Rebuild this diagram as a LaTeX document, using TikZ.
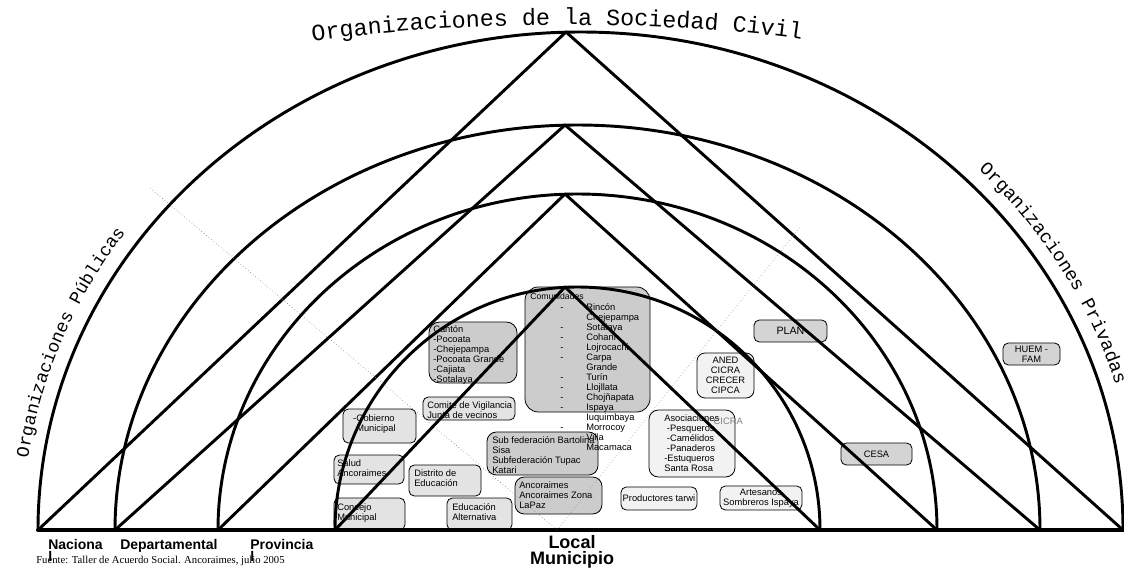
\documentclass[tikz,border=0pt]{standalone}
\usepackage{fontspec}
\newfontfamily\arialfam{Liberation Sans}
\newfontfamily\courfam{Liberation Mono}
\newfontfamily\romanfam{Liberation Serif}
\usetikzlibrary{fit,decorations.text}
\definecolor{grisA}{gray}{0.80}
\definecolor{grisB}{gray}{0.89}
\definecolor{grisC}{gray}{0.95}
\definecolor{grisD}{gray}{0.83}
\tikzset{
  caja/.style={draw=black, line width=0.6pt, rounded corners=4pt, inner sep=0pt},
  txt/.style={anchor=north west, inner sep=0pt, align=left, font=\arialfam\fontsize{7}{7.5}\selectfont},
  txtc/.style={inner sep=0pt, align=center, font=\arialfam\fontsize{7}{7.5}\selectfont},
  nivel/.style={anchor=north west, inner sep=0pt, align=left, font=\arialfam\bfseries\fontsize{10.5}{9}\selectfont},
  linea/.style={line width=2.2pt},
}
\begin{document}
\begin{tikzpicture}[line cap=round,line join=round,x=0.75pt,y=-0.75pt]
\useasboundingbox (0,0) rectangle (1124,568);

% cajas
\node[caja, fill=grisA, rounded corners=8pt, fit={(429,322) (517,383)}] (canton) {};
\node[caja, fill=grisA, rounded corners=10pt, fit={(525,287) (650,412)}] (comunidades) {};
\node[caja, fill=grisB, fit={(423,397) (515,420)}] (comite) {};
\node[caja, fill=grisB, fit={(343,409) (416,443)}] (gobierno) {};
\node[caja, fill=grisB, fit={(334,455) (404,484)}] (salud) {};
\node[caja, fill=grisB, fit={(334,498) (405,530)}] (concejo) {};
\node[caja, fill=grisB, fit={(409,465) (481,496)}] (distrito) {};
\node[caja, fill=grisB, fit={(447,498) (512,530)}] (educacion) {};
\node[caja, fill=grisA, rounded corners=7pt, fit={(487,432) (598,475)}] (subfed) {};
\node[caja, fill=grisA, rounded corners=7pt, fit={(515,477) (602,514)}] (ancoraimes) {};
\node[caja, fill=grisC, fit={(621,487) (697,510)}] (productores) {};
\node[caja, fill=grisC, fit={(720,486) (802,510)}] (artesanos) {};
\node[caja, fill=grisC, rounded corners=7pt, fit={(649,410) (735,477)}] (asociaciones) {};
\node[caja, fill=grisC, rounded corners=6pt, fit={(697,353) (754,398)}] (aned) {};
\node[caja, fill=grisD, fit={(754,320) (827,342)}] (plan) {};
\node[caja, fill=grisD, fit={(841,443) (912,465)}] (cesa) {};
\node[caja, fill=grisD, fit={(1003,343) (1060,365)}] (huem) {};

% niveles
\coordinate (b1) at (38,530);
\coordinate (b2) at (115,530);
\coordinate (b3) at (218,530);
\coordinate (b4) at (335,530);
\coordinate (c1) at (566,32);
\coordinate (c2) at (565,125);
\coordinate (c3) at (565,194);
\coordinate (c4) at (565,287);
\coordinate (d1) at (1123,530);
\coordinate (d2) at (1040,530);
\coordinate (d3) at (937,530);
\coordinate (d4) at (820,530);
\draw [linea] (b1) arc[start angle=180, end angle=360, x radius=542.5, y radius=498];
\draw [linea] (b2) arc[start angle=180, end angle=360, x radius=462.5, y radius=405];
\draw [linea] (b3) arc[start angle=180, end angle=360, x radius=359.5, y radius=336];
\draw [linea] (b4) arc[start angle=180, end angle=360, x radius=242.5, y radius=243];
\draw [linea] (b1)--(c1)--(d1);
\draw [linea] (b2)--(c2)--(d2);
\draw [linea] (b3)--(c3)--(d3);
\draw [linea] (b4)--(c4)--(d4);
\draw [line width=3pt] (b1)--(d1);
\coordinate (p1) at (150,188);
\coordinate (p0) at (557,530);
\coordinate (p2) at (800,227);
\draw [gray, dotted, line width=0.4pt] (p1)--(p0)--(p2);

% textos
\path [decorate, decoration={text along path, text align=center,
  text={|\courfam\fontsize{17.5}{17.5}\selectfont|Organizaciones de la Sociedad Civil}}]
  (296,44) .. controls (450,19) and (680,19) .. (818,42);
\path [decorate, decoration={text along path, text align=center,
  text={|\courfam\fontsize{13.5}{13.5}\selectfont|Organizaciones Públicas}}]
  (28.6,455) arc[start angle=188.4, end angle=215, x radius=558, y radius=514];
\path [decorate, decoration={text along path, text align=left,
  text={|\courfam\fontsize{14}{14}\selectfont|Organizaciones Privadas}}]
  (978.5,170) arc[start angle=315.5, end angle=355, x radius=558, y radius=514];

\node [txt] (t-canton) at (433,325) {Cantón\\-Pocoata\\-Chejepampa\\-Pocoata Grande\\-Cajiata\\-Sotalaya};
\node [txt, font=\arialfam\fontsize{6.5}{7}\selectfont] (t-comunidades) at (530,293) {Comunidades};
\node [txt] (t-lista) at (560,303) {\begin{tabular}{@{}p{19.5pt}@{}l@{}}
-&Rincón\\ &Chejepampa\\ -&Sotalaya\\ -&Cohani\\ -&Lojrocachi\\ -&Carpa\\ &Grande\\
-&Turín\\ -&Llojllata\\ -&Chojñapata\\ -&Ispaya\\ &Iuquimbaya\\ -&Morrocoy\\ &Villa\\ &Macamaca
\end{tabular}};
\node [txt] (t-comite) at (427,401) {Comite de Vigilancia\\Junta de vecinos};
\node [txt] (t-gobierno) at (356,414) {\llap{-}Gobierno\\Municipal};
\node [txt] (t-salud) at (337,459) {Salud\\Ancoraimes};
\node [txt] (t-concejo) at (337,503) {Concejo\\Municipal};
\node [txt] (t-distrito) at (414,469) {Distrito de\\Educación};
\node [txt] (t-educacion) at (452,503) {Educación\\Alternativa};
\node [txt] (t-subfed) at (492,436) {Sub federación Bartolina\\Sisa\\Subfederación Tupac\\Katari};
\node [txt] (t-ancoraimes) at (519,481) {Ancoraimes\\Ancoraimes Zona\\LaPaz};
\node [txtc] (t-productores) at (productores) {Productores tarwi};
\node [txtc] (t-artesanos) at (artesanos) {Artesanos\\Sombreros Ispaya};
\node [txt] (t-asociaciones) at (664,414) {Asociaciones\\\hspace{2pt}-Pesqueros\\\hspace{2pt}-Camélidos\\\hspace{2pt}-Panaderos\\-Estuqueros\\Santa Rosa};
\node [txtc, anchor=east, text=gray] (t-cicra) at (743,421) {CICRA};
\node [txtc] (t-aned) at (aned) {ANED\\CICRA\\CRECER\\CIPCA};
\node [txtc, font=\arialfam\fontsize{8}{8}\selectfont] (t-plan) at (plan) {PLAN};
\node [txtc] (t-cesa) at (cesa) {CESA};
\node [txtc] (t-huem) at (huem) {HUEM -\\FAM};

\node [nivel] (nacional) at (48,539) {Naciona\\l};
\node [nivel] (departamental) at (120,539) {Departamental};
\node [nivel] (provincial) at (250,539) {Provincia\\l};
\node [nivel, anchor=north, align=center, font=\arialfam\bfseries\fontsize{13.5}{12}\selectfont] (local) at (572,535) {Local\\Municipio};
\node [anchor=west, inner sep=0pt, font=\romanfam\fontsize{8}{9}\selectfont] (fuente) at (36,561) {Fuente: Taller de Acuerdo Social. Ancoraimes, julio 2005};
\end{tikzpicture}
\end{document}
